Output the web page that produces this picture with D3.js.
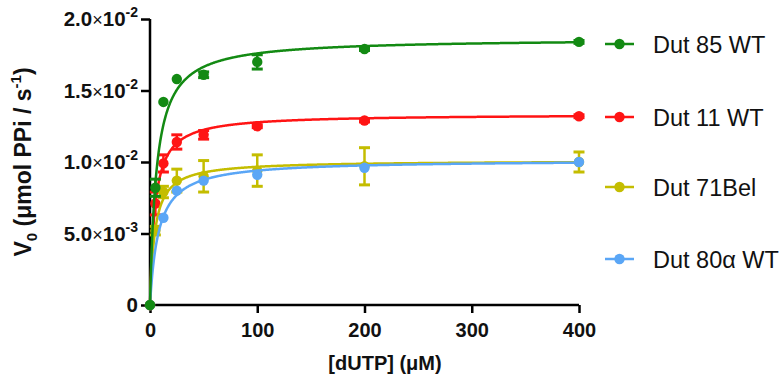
<!DOCTYPE html>
<html>
<head>
<meta charset="utf-8">
<script src="https://cdn.jsdelivr.net/npm/d3@7"></script>
<style>
  body { margin: 0; background: #fff; }
  svg { font-family: "Liberation Sans", Arial, sans-serif; }
</style>
</head>
<body>
<svg id="chart" width="782" height="379"></svg>
<script>
// dUTP concentrations (uM)
const dutp = [0, 5, 12.5, 25, 50, 100, 200, 400];

// V0 means and error bars (umol PPi / s), null = not shown
const dut85 = [0, 0.0082, 0.0142, 0.0158, 0.0161, 0.0170, 0.0179, 0.0184];
const dut85Err = [0, 0.0006, 0, 0, 0.0002, 0.0005, 0.0001, 0.0001];
const dut11 = [0, 0.0071, 0.0099, 0.0114, 0.0119, 0.0125, 0.0129, 0.0132];
const dut11Err = [0, 0.0008, 0.0006, 0.0005, 0.0003, 0.0001, 0.0001, 0.0001];
const dut71 = [0, 0.0052, 0.0079, 0.0087, 0.0090, 0.0094, 0.0097, 0.0100];
const dut71Err = [0, 0.0003, 0.0004, 0.0008, 0.0011, 0.0011, 0.0013, 0.0007];
const dut80 = [0, null, 0.0061, 0.0080, 0.0087, 0.0091, 0.0096, 0.0100];
const dut80Err = [0, 0, 0, 0, 0, 0, 0, 0];

// Michaelis-Menten fit parameters
const vmax = [0.01865, 0.01335, 0.0101, 0.01015];
const km = [6.0, 4.5, 4.5, 8.0];

const names = ["Dut 85 WT", "Dut 11 WT", "Dut 71Bel", "Dut 80\u03b1 WT"];
const colors = ["#138a13", "#ff1414", "#c4bd00", "#5aa6f6"];

const xTicks = [0, 100, 200, 300, 400];
const yTicks = [0, 0.005, 0.01, 0.015, 0.02];
const yTickMant = ["0", "5.0", "1.0", "1.5", "2.0"];
const yTickExp = ["", "-3", "-2", "-2", "-2"];

const series = [
  { name: names[0], color: colors[0], v: dut85, err: dut85Err, vmax: vmax[0], km: km[0] },
  { name: names[1], color: colors[1], v: dut11, err: dut11Err, vmax: vmax[1], km: km[1] },
  { name: names[2], color: colors[2], v: dut71, err: dut71Err, vmax: vmax[2], km: km[2] },
  { name: names[3], color: colors[3], v: dut80, err: dut80Err, vmax: vmax[3], km: km[3] }
];

const svg = d3.select("#chart");

const x = d3.scaleLinear().domain([0, 400]).range([150, 579]);
const y = d3.scaleLinear().domain([0, 0.02]).range([305, 19]);

// axes
const xAxis = svg.append("g")
  .attr("transform", "translate(0,305)")
  .call(d3.axisBottom(x).tickValues(xTicks).tickSize(8).tickSizeOuter(0).tickFormat(d3.format("d")));
const yAxis = svg.append("g")
  .attr("transform", "translate(150,0)")
  .call(d3.axisLeft(y).tickValues(yTicks).tickSize(9).tickSizeOuter(0).tickFormat(""));

[xAxis, yAxis].forEach(g => {
  g.select(".domain").attr("stroke", "#000").attr("stroke-width", 2.5);
  g.selectAll(".tick line").attr("stroke", "#000").attr("stroke-width", 2.5);
});
xAxis.select(".domain").attr("d", "M" + (x(0) - 1.25) + ",0H" + x(400));
yAxis.select(".domain").attr("d", "M0," + (y(0) + 1.25) + "V" + y(0.02));

xAxis.selectAll(".tick text")
  .attr("font-size", 20).attr("font-weight", "bold").attr("fill", "#111")
  .attr("font-family", "Liberation Sans, Arial, sans-serif")
  .attr("dy", "1.05em");

// y tick labels with x10 and superscript exponent
const yLab = svg.append("g");
yTicks.forEach((t, i) => {
  const txt = yLab.append("text")
    .attr("x", 138).attr("y", y(t) + 7)
    .attr("text-anchor", "end")
    .attr("font-size", 20.5).attr("font-weight", "bold").attr("fill", "#111");
  if (!yTickExp[i]) { txt.text(yTickMant[i]); return; }
  txt.append("tspan").text(yTickMant[i]);
  txt.append("tspan").attr("font-weight", "normal").attr("font-size", 18).text("\u00d7");
  txt.append("tspan").text("10");
  txt.append("tspan").attr("font-size", 14).attr("dy", -9).text(yTickExp[i]);
});

// axis titles
svg.append("text")
  .attr("x", 385).attr("y", 370)
  .attr("text-anchor", "middle")
  .attr("font-size", 20).attr("font-weight", "bold").attr("fill", "#111")
  .text("[dUTP] (\u03bcM)");

const yt = svg.append("text")
  .attr("transform", "translate(31,162) rotate(-90)")
  .attr("text-anchor", "middle")
  .attr("font-size", 23).attr("font-weight", "bold").attr("fill", "#111");
yt.append("tspan").text("V");
yt.append("tspan").attr("font-size", 15).attr("dy", 6).text("0");
yt.append("tspan").attr("dy", -6).text(" (\u03bcmol PPi / s");
yt.append("tspan").attr("font-size", 15).attr("dy", -10).text("-1");
yt.append("tspan").attr("dy", 10).text(")");

// plot, drawn so that green ends up on top
const order = [1, 2, 3, 0];
const curveX = d3.range(0, 400.01, 0.5);
const line = d3.line().x(d => x(d[0])).y(d => y(d[1]));

order.forEach(k => {
  const s = series[k];
  const g = svg.append("g");
  g.append("path")
    .attr("d", line(curveX.map(c => [c, s.vmax * c / (s.km + c)])))
    .attr("fill", "none").attr("stroke", s.color).attr("stroke-width", 2.5);

  const pts = dutp.map((c, i) => ({ c: c, v: s.v[i], e: s.err[i] })).filter(p => p.v !== null);
  const eb = g.selectAll(".eb").data(pts.filter(p => p.e > 0)).enter().append("g");
  eb.append("line")
    .attr("x1", d => x(d.c)).attr("x2", d => x(d.c))
    .attr("y1", d => y(d.v - d.e)).attr("y2", d => y(d.v + d.e))
    .attr("stroke", s.color).attr("stroke-width", 2.5);
  [1, -1].forEach(sg => {
    eb.append("line")
      .attr("x1", d => x(d.c) - 5.5).attr("x2", d => x(d.c) + 5.5)
      .attr("y1", d => y(d.v + sg * d.e)).attr("y2", d => y(d.v + sg * d.e))
      .attr("stroke", s.color).attr("stroke-width", 3);
  });
  g.selectAll("circle").data(pts).enter().append("circle")
    .attr("cx", d => x(d.c)).attr("cy", d => y(d.v))
    .attr("r", 5.2).attr("fill", s.color);
});

// legend
const legY = [44, 117, 187, 259];
series.forEach((s, i) => {
  const lg = svg.append("g").attr("transform", "translate(0," + legY[i] + ")");
  lg.append("line").attr("x1", 605).attr("x2", 634).attr("y1", 0).attr("y2", 0)
    .attr("stroke", s.color).attr("stroke-width", 2.5);
  lg.append("circle").attr("cx", 619.5).attr("cy", 0).attr("r", 5.2).attr("fill", s.color);
  lg.append("text").attr("x", 653).attr("y", 8.5)
    .attr("font-size", 23.5).attr("fill", "#111").text(s.name);
});
</script>
</body>
</html>
